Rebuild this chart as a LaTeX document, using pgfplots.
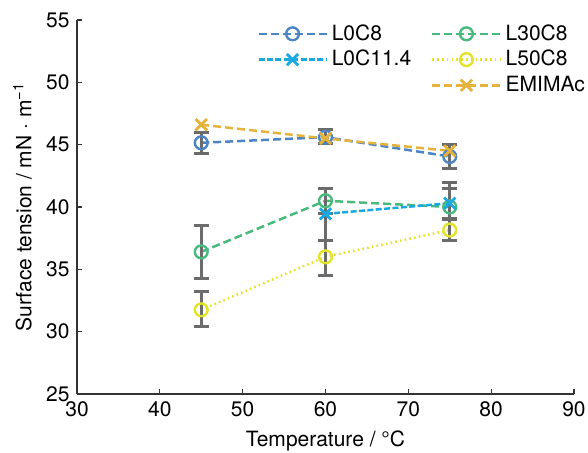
\documentclass[border=0pt]{standalone}
\usepackage{pgfplots}
\pgfplotsset{compat=1.18}
\usepackage{fontspec}
\setmainfont{TeX Gyre Heros}
\definecolor{cA}{HTML}{4D84C4}
\definecolor{cB}{HTML}{19A8E0}
\definecolor{cC}{HTML}{4AB97E}
\definecolor{cD}{HTML}{E3E22D}
\definecolor{cE}{HTML}{E5B33C}
\definecolor{eg}{HTML}{6B6B6B}
\definecolor{ax}{HTML}{333333}
\begin{document}
\fontsize{10.5}{12.5}\selectfont
\begin{tikzpicture}
\useasboundingbox (-38.5pt,-29.5pt) rectangle (255.5pt,197pt);
\begin{axis}[
  scale only axis, width=248.5pt, height=187pt,
  xmin=30, xmax=90, ymin=25, ymax=55,
  xtick={30,40,...,90}, ytick={25,30,...,55},
  axis x line*=bottom, axis y line*=left,
  axis line style={ax, line width=0.6pt},
  tick style={ax, line width=0.6pt}, tick align=inside, major tick length=2.5pt,
  /pgf/number format/assume math mode=true,
  ticklabel style={font=\fontsize{10.5}{12.5}\selectfont},
  label style={font=\fontsize{10.5}{12.5}\selectfont},
  xlabel={Temperature / °C},
  ylabel={Surface tension / mN · m\textsuperscript{−1}},
  legend columns=2, legend cell align=left,
  legend style={at={(axis description cs:0.362,1.0)}, anchor=north west,
    draw=none, fill=none, inner sep=0pt, row sep=-0.5pt,
    font=\fontsize{10.5}{12.5}\selectfont,
    /tikz/every even column/.append style={column sep=8pt}},
  legend image code/.code={\draw[mark repeat=2,mark phase=2] plot coordinates {(0pt,0pt) (17pt,0pt) (34pt,0pt)};},
  error bars/y dir=both, error bars/y explicit,
  error bars/error bar style={line width=1.5pt, color=eg, solid},
  error bars/error mark options={rotate=90, mark size=3.75pt, line width=1.5pt, color=eg, solid},
]
\addplot[cA, line width=1.25pt, dash pattern=on 4pt off 2pt, mark=o, mark size=3.2pt, mark options={solid, line width=1.2pt}]
  table[x=x, y=y, y error plus=ep, y error minus=em] {
x y ep em
45 45.15 0.85 0.85
60 45.6 0.6 0.5
75 44.05 0.95 1.0
};
\addlegendentry{L0C8}
\addplot[cC, line width=1.25pt, dash pattern=on 4pt off 2pt, mark=o, mark size=3.2pt, mark options={solid, line width=1.2pt}]
  table[x=x, y=y, y error plus=ep, y error minus=em] {
x y ep em
45 36.4 2.1 2.1
60 40.5 1.0 1.0
75 40.0 1.5 0.9
};
\addlegendentry{L30C8}
\addplot[cB, line width=1.25pt, dash pattern=on 3pt off 1.2pt, mark=x, mark size=4pt, mark options={solid, line width=1.4pt}]
  table[x=x, y=y, y error plus=ep, y error minus=em] {
x y ep em
60 39.45 2.05 2.1
75 40.3 1.7 1.2
};
\addlegendentry{L0C11.4}
\addplot[cD, line width=1.25pt, dash pattern=on 0.8pt off 1.6pt, mark=o, mark size=3.2pt, mark options={solid, line width=1.2pt}]
  table[x=x, y=y, y error plus=ep, y error minus=em] {
x y ep em
45 31.75 1.45 1.35
60 36.0 1.35 1.5
75 38.15 0.85 0.8
};
\addlegendentry{L50C8}
\addlegendimage{empty legend}
\addlegendentry{}
\addplot[cE, line width=1.25pt, dash pattern=on 4pt off 2pt, mark=x, mark size=4pt, mark options={solid, line width=1.4pt}]
  table[x=x, y=y] {
x y
45 46.6
60 45.5
75 44.5
};
\addlegendentry{EMIMAc}
\end{axis}
\end{tikzpicture}
\end{document}
